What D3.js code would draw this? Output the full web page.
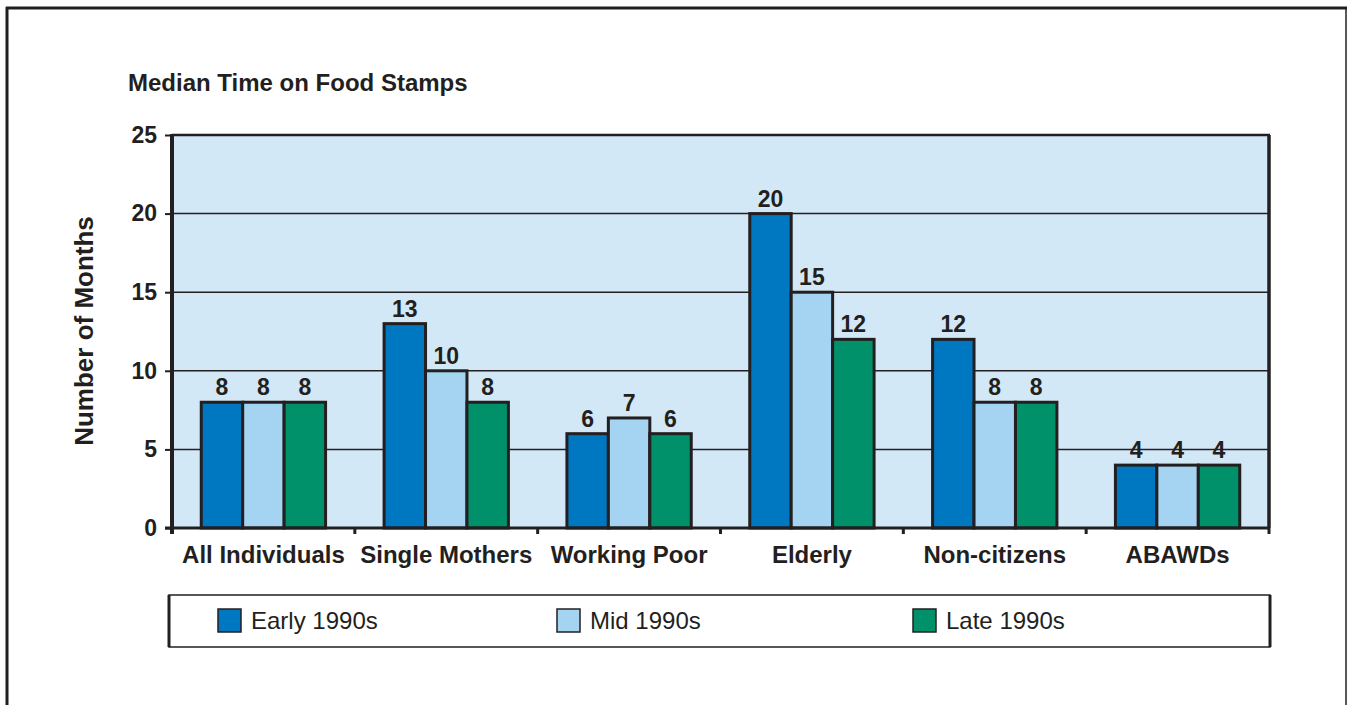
<!DOCTYPE html>
<html>
<head>
<meta charset="utf-8">
<script src="https://cdn.jsdelivr.net/npm/d3@7"></script>
<style>
  body { margin: 0; background: #fff; }
  text { font-family: "Liberation Sans", Arial, sans-serif; fill: #231f20; }
</style>
</head>
<body>
<div id="chart-area"></div>
<script>
// chart data
const categories = ["All Individuals", "Single Mothers", "Working Poor", "Elderly", "Non-citizens", "ABAWDs"];
const seriesNames = ["Early 1990s", "Mid 1990s", "Late 1990s"];
const early1990s = [8, 13, 6, 20, 12, 4];
const mid1990s = [8, 10, 7, 15, 8, 4];
const late1990s = [8, 8, 6, 12, 8, 4];
const yTicks = [0, 5, 10, 15, 20, 25];

const colors = ["#0077c1", "#a5d4f2", "#00916b"];
const ink = "#231f20";

const seriesValues = [early1990s, mid1990s, late1990s];
const rows = categories.map((c, i) => ({
    category: c,
    values: seriesNames.map((s, j) => ({ series: s, idx: j, value: seriesValues[j][i] }))
}));

const svg = d3.select("#chart-area")
    .append("svg")
        .attr("width", 1348)
        .attr("height", 705);

// outer frame
svg.append("line").attr("x1", 7).attr("x2", 7).attr("y1", 7).attr("y2", 705)
    .attr("stroke", ink).attr("stroke-width", 3);
svg.append("line").attr("x1", 6).attr("x2", 1347).attr("y1", 8).attr("y2", 8)
    .attr("stroke", ink).attr("stroke-width", 3);
svg.append("line").attr("x1", 1346).attr("x2", 1346).attr("y1", 7).attr("y2", 705)
    .attr("stroke", ink).attr("stroke-width", 1.5);

const plotLeft = 172, plotRight = 1269, plotTop = 135, plotBottom = 528;

const x = d3.scaleBand()
    .domain(categories)
    .range([plotLeft, plotRight])
    .paddingInner(0.32)
    .paddingOuter(0.16);

const x1 = d3.scaleBand()
    .domain(seriesNames)
    .range([0, x.bandwidth()])
    .padding(0);

const y = d3.scaleLinear()
    .domain([0, 25])
    .range([plotBottom, plotTop]);

// plot background
svg.append("rect")
    .attr("x", plotLeft).attr("y", plotTop)
    .attr("width", plotRight - plotLeft).attr("height", plotBottom - plotTop)
    .attr("fill", "#d3e8f7");

// gridlines
svg.append("g")
    .selectAll("line")
    .data(yTicks.filter(t => t > 0 && t < 25))
    .enter()
    .append("line")
        .attr("x1", plotLeft).attr("x2", plotRight)
        .attr("y1", d => y(d)).attr("y2", d => y(d))
        .attr("stroke", ink).attr("stroke-width", 1.5);

// plot border top / right
svg.append("line").attr("x1", plotLeft).attr("x2", plotRight + 1).attr("y1", plotTop).attr("y2", plotTop)
    .attr("stroke", ink).attr("stroke-width", 2.5);
svg.append("line").attr("x1", plotRight).attr("x2", plotRight).attr("y1", plotTop).attr("y2", plotBottom)
    .attr("stroke", ink).attr("stroke-width", 3.5);

// bars
const groups = svg.append("g")
    .selectAll("g")
    .data(rows)
    .enter()
    .append("g")
        .attr("transform", d => `translate(${x(d.category)},0)`);

groups.selectAll("rect")
    .data(d => d.values)
    .enter()
    .append("rect")
        .attr("x", d => x1(d.series))
        .attr("y", d => y(d.value))
        .attr("width", x1.bandwidth())
        .attr("height", d => y(0) - y(d.value))
        .attr("fill", d => colors[d.idx])
        .attr("stroke", ink)
        .attr("stroke-width", 3);

groups.selectAll("text")
    .data(d => d.values)
    .enter()
    .append("text")
        .attr("x", d => x1(d.series) + x1.bandwidth() / 2)
        .attr("y", d => y(d.value) - 7)
        .attr("text-anchor", "middle")
        .attr("font-size", 23)
        .attr("font-weight", "bold")
        .text(d => d.value);

// y axis
const yAxis = d3.axisLeft(y).tickValues(yTicks).tickSize(7).tickPadding(8);
const gy = svg.append("g")
    .attr("transform", `translate(${plotLeft},0)`)
    .call(yAxis);
gy.select(".domain").remove();
gy.selectAll(".tick line").attr("stroke", ink).attr("stroke-width", 2);
gy.selectAll(".tick text")
    .attr("font-size", 23).attr("font-weight", "bold")
    .attr("font-family", "Liberation Sans, Arial, sans-serif")
    .attr("fill", ink);
svg.append("line").attr("x1", plotLeft).attr("x2", plotLeft).attr("y1", plotTop - 1).attr("y2", plotBottom + 6)
    .attr("stroke", ink).attr("stroke-width", 4);

// x axis
const step = (plotRight - plotLeft) / categories.length;
svg.append("line").attr("x1", plotLeft - 7).attr("x2", plotRight + 1).attr("y1", plotBottom).attr("y2", plotBottom)
    .attr("stroke", ink).attr("stroke-width", 3);
svg.append("g")
    .selectAll("line")
    .data(d3.range(1, categories.length + 1))
    .enter()
    .append("line")
        .attr("x1", d => plotLeft + d * step).attr("x2", d => plotLeft + d * step)
        .attr("y1", plotBottom).attr("y2", plotBottom + 6)
        .attr("stroke", ink).attr("stroke-width", 3);

svg.append("g")
    .selectAll("text")
    .data(categories)
    .enter()
    .append("text")
        .attr("x", d => x(d) + x.bandwidth() / 2)
        .attr("y", 563)
        .attr("text-anchor", "middle")
        .attr("font-size", 24)
        .attr("font-weight", "bold")
        .text(d => d);

// title and axis label
svg.append("text")
    .attr("x", 128).attr("y", 91)
    .attr("font-size", 24)
    .attr("font-weight", "bold")
    .text("Median Time on Food Stamps");

svg.append("text")
    .attr("transform", "translate(93,331) rotate(-90)")
    .attr("text-anchor", "middle")
    .attr("font-size", 26)
    .attr("font-weight", "bold")
    .text("Number of Months");

// legend
const legend = svg.append("g");
legend.append("rect")
    .attr("x", 169).attr("y", 595).attr("width", 1101).attr("height", 52)
    .attr("fill", "#fff").attr("stroke", ink).attr("stroke-width", 1.5);
legend.append("line").attr("x1", 169).attr("x2", 169).attr("y1", 595).attr("y2", 647)
    .attr("stroke", ink).attr("stroke-width", 3);
legend.append("line").attr("x1", 1270).attr("x2", 1270).attr("y1", 595).attr("y2", 647)
    .attr("stroke", ink).attr("stroke-width", 3);

const legendX = [218, 557, 913];
const items = legend.selectAll("g.item")
    .data(seriesNames)
    .enter()
    .append("g")
        .attr("class", "item")
        .attr("transform", (d, i) => `translate(${legendX[i]},609)`);
items.append("rect")
    .attr("width", 23).attr("height", 23)
    .attr("fill", (d, i) => colors[i])
    .attr("stroke", ink).attr("stroke-width", 1.5);
items.append("text")
    .attr("x", 33).attr("y", 20)
    .attr("font-size", 24)
    .text(d => d);
</script>
</body>
</html>
